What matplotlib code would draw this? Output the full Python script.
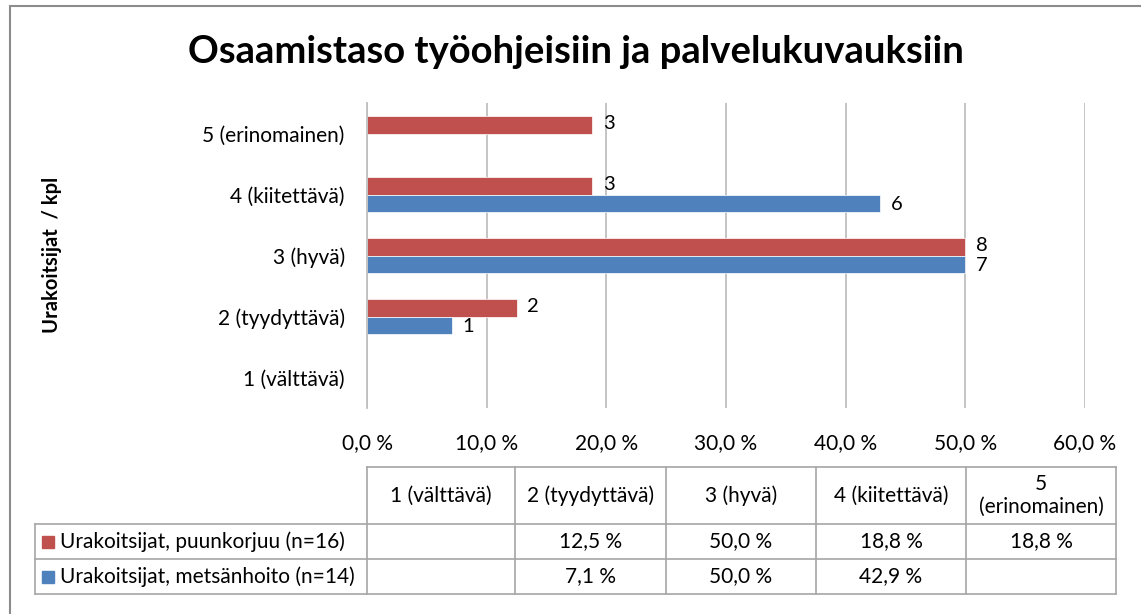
import matplotlib.pyplot as plt
from matplotlib.patches import Rectangle
from matplotlib.lines import Line2D

plt.rcParams['font.family'] = ['Lato', 'DejaVu Sans']

# data
categories = ['1 (välttävä)', '2 (tyydyttävä)', '3 (hyvä)', '4 (kiitettävä)', '5 (erinomainen)']
table_headers = ['1 (välttävä)', '2 (tyydyttävä)', '3 (hyvä)', '4 (kiitettävä)', '5\n(erinomainen)']
series_names = ['Urakoitsijat, puunkorjuu (n=16)', 'Urakoitsijat, metsänhoito (n=14)']
puunkorjuu_pct = [None, 12.5, 50.0, 18.8, 18.8]
metsanhoito_pct = [None, 7.1, 50.0, 42.9, None]
puunkorjuu_n = [None, 2, 8, 3, 3]
metsanhoito_n = [None, 1, 7, 6, None]
x_ticks = [0, 10, 20, 30, 40, 50, 60]

red = '#C0504D'
blue = '#4F81BD'
W, H = 1141, 614
fs = 15


def fmt_pct(v):
    return '' if v is None else f'{v:.1f} %'.replace('.', ',')


fig = plt.figure(figsize=(W / 100, H / 100), dpi=100)

# outer chart border
fig.patches.append(Rectangle((10 / W, -0.1), 1.2, 1 - 6 / H + 0.1, transform=fig.transFigure,
                             fill=False, edgecolor='#8c8c8c', linewidth=1.5))

fig.text(576 / W, 1 - 52 / H, 'Osaamistaso työohjeisiin ja palvelukuvauksiin',
         ha='center', va='center', fontsize=27.5, fontweight='bold')

ax = fig.add_axes([367 / W, 1 - 408 / H, (1085 - 367) / W, 305 / H])
ypos = list(range(len(categories)))
bh = 0.28
for i in ypos:
    if puunkorjuu_pct[i] is not None:
        ax.barh(i + bh / 2, puunkorjuu_pct[i], height=bh, color=red, edgecolor='white', linewidth=0.5)
        ax.text(puunkorjuu_pct[i] + 0.9, i + bh / 2 + 0.03, str(puunkorjuu_n[i]),
                va='center', ha='left', fontsize=fs - 0.5)
    if metsanhoito_pct[i] is not None:
        ax.barh(i - bh / 2, metsanhoito_pct[i], height=bh, color=blue, edgecolor='white', linewidth=0.5)
        ax.text(metsanhoito_pct[i] + 0.9, i - bh / 2 - 0.03, str(metsanhoito_n[i]),
                va='center', ha='left', fontsize=fs - 0.5)

ax.set_xlim(0, 60)
ax.set_ylim(-0.5, len(categories) - 0.5)
ax.set_yticks(ypos)
ax.set_yticklabels(categories, fontsize=fs)
ax.set_xticks(x_ticks)
ax.set_xticklabels([fmt_pct(float(t)) for t in x_ticks], fontsize=fs)
ax.tick_params(axis='both', length=0)
ax.tick_params(axis='y', pad=16)
ax.tick_params(axis='x', pad=18)
ax.grid(axis='x', color='#bfbfbf', linewidth=1.3)
ax.set_axisbelow(True)
for s in ['top', 'right', 'bottom']:
    ax.spines[s].set_visible(False)
ax.spines['left'].set_color('#bfbfbf')
ax.spines['left'].set_linewidth(1.3)

fig.text(52 / W, 1 - 255 / H, 'Urakoitsijat  / kpl', rotation=90, ha='center', va='center',
         fontsize=14.5, fontweight='bold')

# data table below the chart
tax = fig.add_axes([0, 0, 1, 1])
tax.set_xlim(0, W)
tax.set_ylim(H, 0)
tax.axis('off')
col_edges = [35, 367, 515, 666, 816, 966, 1116]
row_edges = [467, 524, 559, 594]
lc = '#a6a6a6'
# horizontal lines
tax.add_line(Line2D([col_edges[1], col_edges[-1]], [row_edges[0]] * 2, color=lc, lw=1.2))
for y in row_edges[1:]:
    tax.add_line(Line2D([col_edges[0], col_edges[-1]], [y, y], color=lc, lw=1.2))
# vertical lines
tax.add_line(Line2D([col_edges[0]] * 2, [row_edges[1], row_edges[-1]], color=lc, lw=1.2))
for x in col_edges[1:]:
    tax.add_line(Line2D([x, x], [row_edges[0], row_edges[-1]], color=lc, lw=1.2))

for j, h in enumerate(table_headers):
    cx = (col_edges[j + 1] + col_edges[j + 2]) / 2
    tax.text(cx, (row_edges[0] + row_edges[1]) / 2, h, ha='center', va='center', fontsize=fs,
             linespacing=1.15)

for r, (name, vals, col) in enumerate([(series_names[0], puunkorjuu_pct, red),
                                       (series_names[1], metsanhoito_pct, blue)]):
    cy = (row_edges[r + 1] + row_edges[r + 2]) / 2
    tax.add_patch(Rectangle((42, cy - 6), 12, 12, color=col))
    tax.text(60, cy, name, ha='left', va='center', fontsize=fs)
    for j, v in enumerate(vals):
        cx = (col_edges[j + 1] + col_edges[j + 2]) / 2
        tax.text(cx, cy, fmt_pct(v), ha='center', va='center', fontsize=fs)

fig.savefig('out.png', dpi=100)
